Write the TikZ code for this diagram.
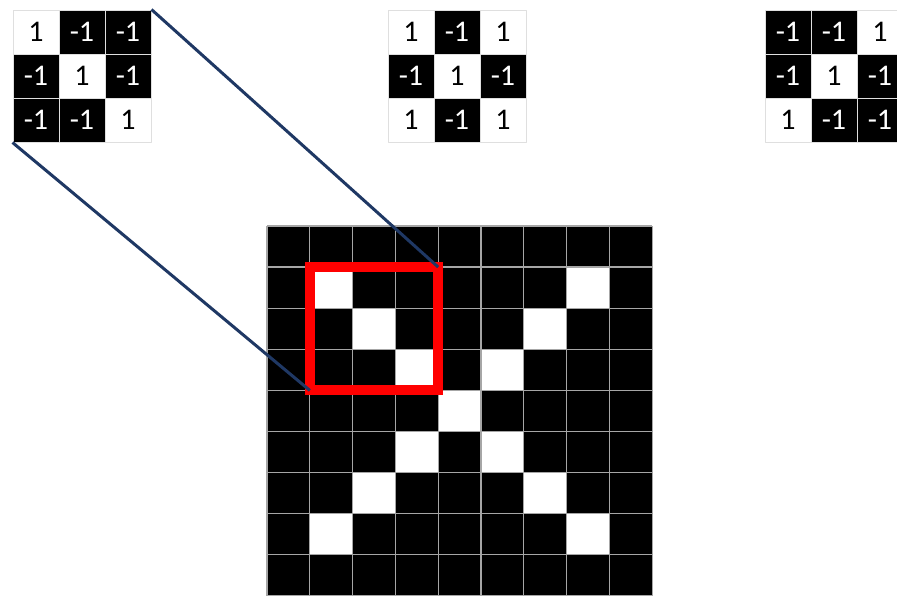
\documentclass[tikz,border=0pt]{standalone}
\usepackage{fontspec}
\setmainfont{Carlito}
\definecolor{navy}{HTML}{1F3864}
\tikzset{
  cell/.style={minimum width=46pt, minimum height=44pt, inner sep=0pt, draw=gray!25, line width=1pt, font=\fontsize{30}{31}\selectfont},
  link/.style={navy, line width=3pt}
}
\begin{document}
\begin{tikzpicture}[x=1pt, y=-1pt, line join=round]
	\useasboundingbox (0,0) rectangle (897,595);
	% the three 3x3 filters
	\foreach \ox/\name/\vals in {13/A/{1,-1,-1,-1,1,-1,-1,-1,1}, 388/B/{1,-1,1,-1,1,-1,1,-1,1}, 765/C/{-1,-1,1,-1,1,-1,1,-1,-1}}
		\foreach \v [count=\i from 0] in \vals {
			\pgfmathtruncatemacro\col{mod(\i,3)}
			\pgfmathtruncatemacro\row{\i/3}
			\ifnum\v>0 \def\bg{white}\def\fg{black}\else\def\bg{black}\def\fg{white}\fi
			\node[cell, fill=\bg, text=\fg] (\name\i) at (\ox+23+46*\col, 32+44*\row) {\v};
		}
	% the 9x9 image of an X
	\begin{scope}[shift={(267,226)}, x=42.8pt, y=-41.1pt]
		\fill[black] (0,0) rectangle (9,9);
		\foreach \c/\r in {1/1, 7/1, 2/2, 6/2, 3/3, 5/3, 4/4, 3/5, 5/5, 2/6, 6/6, 1/7, 7/7}
			\fill[white] (\c,\r) rectangle ++(1,1);
		\foreach \k in {0,...,9}
			\draw[gray!70, line width=1.3pt] (\k,0) -- (\k,9) (0,\k) -- (9,\k);
		\path (1,4) coordinate (rBL) (4,1) coordinate (rTR);
		\draw[red, line width=10pt, line join=miter] (rBL) rectangle (rTR);
	\end{scope}
	\draw[link] (A2.north east) -- (rTR);
	\draw[link] (A6.south west) -- (rBL);
\end{tikzpicture}
\end{document}
